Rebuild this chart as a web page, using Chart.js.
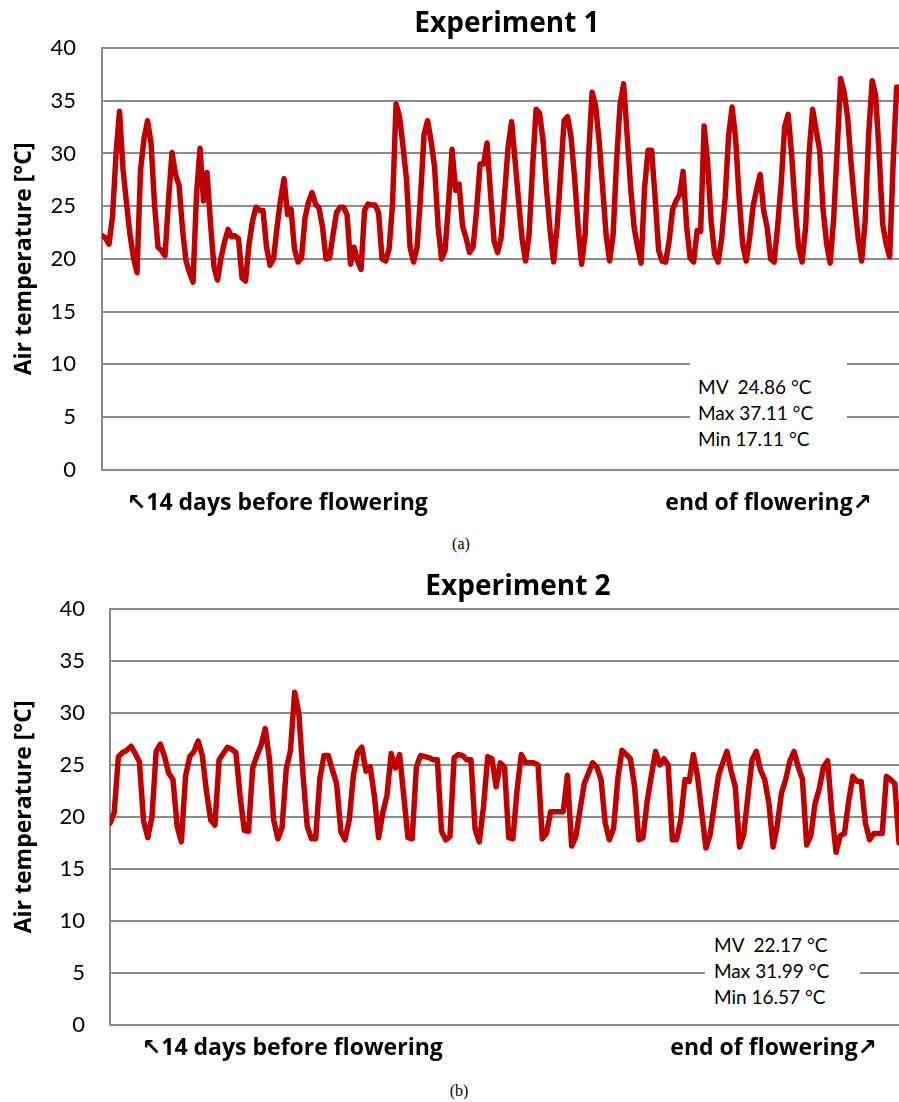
<!DOCTYPE html>
<html>
<head>
<meta charset="utf-8">
<script src="https://cdn.jsdelivr.net/npm/chart.js@4.4.1/dist/chart.umd.min.js"></script>
<style>
  body { margin: 0; background: #fff; }
  #page { position: relative; width: 899px; height: 1102px; overflow: hidden; font-family: Lato, 'DejaVu Sans', sans-serif; color: #000; }
  canvas { position: absolute; left: 0; }
  .title { position: absolute; font-family: 'Open Sans', sans-serif; font-weight: bold; font-size: 28px; line-height: 28px; white-space: nowrap; transform: translateX(-50%); }
  .xlab { position: absolute; font-family: 'Open Sans', 'DejaVu Sans', sans-serif; font-weight: bold; font-size: 23px; line-height: 23px; white-space: nowrap; }
  .stats { position: absolute; background: #fff; font-size: 19px; line-height: 25.8px; white-space: pre; box-sizing: border-box; }
  .cap { position: absolute; font-family: 'Liberation Serif', serif; font-size: 16px; line-height: 16px; transform: translateX(-50%); }
</style>
</head>
<body>
<div id="page">
  <canvas id="chartA" width="899" height="509" style="top:0"></canvas>
  <div class="title" style="left:507px; top:7px">Experiment 1</div>
  <div class="stats" id="statsA" style="left:690px; top:362px; width:157px; height:94px; padding:12px 0 0 8px"></div>
  <div class="xlab" style="left:127px; top:490px">↖14 days before flowering</div>
  <div class="xlab" style="right:27px; top:490px">end of flowering↗</div>
  <div class="cap" style="left:461px; top:536px">(a)</div>

  <canvas id="chartB" width="899" height="503" style="top:560px"></canvas>
  <div class="title" style="left:518px; top:570px">Experiment 2</div>
  <div class="stats" id="statsB" style="left:705px; top:930px; width:155px; height:84px; padding:2px 0 0 9px"></div>
  <div class="xlab" style="left:142px; top:1035px">↖14 days before flowering</div>
  <div class="xlab" style="right:22px; top:1035px">end of flowering↗</div>
  <div class="cap" style="left:459px; top:1083px">(b)</div>
</div>

<script>
// logger readings, one every 3 hours
const HOURS_PER_READING = 3;

const tempExp1 = [
  22.2, 22.0, 21.4, 24.0, 29.9, 34.0, 28.5, 25.3,
  22.3, 20.1, 18.7, 28.4, 31.4, 33.1, 31.0, 25.2,
  21.1, 20.8, 20.3, 25.5, 30.1, 28.0, 27.0, 22.8,
  19.8, 18.7, 17.8, 26.1, 30.5, 25.5, 28.2, 23.3,
  19.2, 18.0, 20.1, 21.6, 22.8, 22.1, 22.2, 21.9,
  18.2, 17.9, 21.4, 23.6, 24.9, 24.6, 24.6, 21.1,
  19.4, 20.0, 23.0, 25.6, 27.6, 24.2, 24.7, 20.9,
  19.7, 20.1, 23.9, 25.4, 26.3, 25.2, 24.8, 23.0,
  20.0, 20.1, 22.3, 24.4, 24.9, 24.9, 24.2, 19.5,
  21.1, 19.8, 19.0, 24.6, 25.2, 25.1, 25.1, 24.4,
  20.0, 19.8, 20.9, 25.2, 34.7, 33.5, 30.6, 27.5,
  21.1, 19.7, 21.1, 26.0, 31.8, 33.1, 31.2, 28.7,
  23.1, 20.0, 20.8, 25.3, 30.4, 26.5, 27.1, 23.1,
  22.0, 20.6, 21.1, 24.6, 29.0, 29.0, 31.0, 26.1,
  21.7, 20.6, 22.0, 26.1, 30.6, 33.0, 29.3, 25.5,
  21.9, 19.8, 22.3, 28.7, 34.2, 33.8, 31.2, 26.5,
  22.7, 19.7, 23.0, 28.0, 33.1, 33.5, 31.5, 27.7,
  23.0, 19.5, 22.3, 29.8, 35.8, 34.5, 31.2, 26.8,
  22.3, 19.8, 22.3, 29.3, 34.7, 36.6, 31.8, 26.8,
  23.0, 21.1, 19.6, 26.8, 30.3, 30.3, 25.8, 20.8,
  19.8, 19.7, 21.7, 24.7, 25.5, 26.1, 28.3, 23.1,
  20.1, 19.7, 22.7, 22.6, 32.6, 29.1, 23.6, 20.4,
  19.7, 21.9, 25.8, 31.7, 34.4, 31.4, 25.8, 21.4,
  19.8, 22.0, 25.0, 26.6, 28.0, 24.6, 23.0, 20.0,
  19.7, 23.1, 27.1, 32.5, 33.7, 29.9, 24.9, 21.1,
  19.7, 23.0, 30.1, 34.2, 32.2, 30.3, 24.6, 21.4,
  19.6, 23.8, 30.3, 37.1, 35.8, 33.4, 29.0, 25.2,
  22.0, 19.8, 23.6, 31.8, 36.9, 35.5, 29.9, 23.3,
  21.4, 20.2, 29.1, 36.3
];

const tempExp2 = [
  19.4, 20.4, 25.8, 26.2, 26.4, 26.8, 26.1, 25.3,
  19.6, 18.0, 20.0, 26.3, 27.0, 25.8, 24.2, 23.6,
  19.1, 17.6, 23.9, 25.8, 26.3, 27.3, 25.9, 22.4,
  19.7, 19.2, 25.5, 26.1, 26.7, 26.5, 26.2, 22.0,
  18.7, 18.6, 24.7, 25.9, 26.9, 28.5, 25.5, 19.7,
  17.9, 19.0, 24.6, 26.4, 32.0, 30.0, 24.0, 19.1,
  17.9, 17.9, 23.7, 25.9, 25.9, 24.5, 23.2, 18.6,
  17.8, 19.7, 24.0, 26.2, 26.7, 24.4, 24.8, 22.0,
  18.0, 20.4, 22.1, 26.1, 24.7, 26.0, 22.0, 18.0,
  17.9, 24.8, 25.9, 25.8, 25.7, 25.5, 25.5, 18.6,
  17.8, 18.1, 25.7, 26.0, 25.9, 25.5, 25.5, 18.8,
  17.6, 21.0, 25.8, 25.6, 22.9, 25.2, 24.8, 18.0,
  17.9, 22.6, 26.0, 25.2, 25.2, 25.2, 25.0, 17.9,
  18.4, 20.5, 20.5, 20.5, 20.5, 24.0, 17.2, 18.1,
  20.7, 23.2, 24.2, 25.2, 24.8, 23.6, 19.4, 17.8,
  18.9, 23.7, 26.4, 26.0, 25.6, 22.9, 17.8, 18.0,
  21.5, 24.0, 26.3, 25.0, 25.6, 25.0, 17.8, 17.8,
  19.7, 23.6, 23.4, 26.0, 23.9, 20.4, 17.0, 18.3,
  21.2, 24.0, 25.2, 26.3, 24.4, 22.9, 17.1, 18.3,
  22.0, 25.5, 26.3, 24.5, 23.6, 21.3, 17.1, 19.2,
  22.3, 23.6, 25.4, 26.3, 24.8, 23.6, 17.3, 18.2,
  21.3, 22.7, 24.8, 25.4, 20.4, 16.6, 18.2, 18.4,
  21.5, 23.9, 23.4, 23.4, 19.4, 17.8, 18.4, 18.4,
  18.4, 23.9, 23.6, 23.2, 17.5
];

// length of each record in hours (x axis end)
const spanExp1 = 683;
const spanExp2 = 564;

const statsExp1 = ['MV  24.86 °C', 'Max 37.11 °C', 'Min 17.11 °C'];
const statsExp2 = ['MV  22.17 °C', 'Max 31.99 °C', 'Min 16.57 °C'];

const Y_MIN = 0;
const Y_MAX = 40;
const Y_STEP = 5;

const LINE_RED = '#C00000';
const GRID_GREY = '#8c8c8c';

Chart.defaults.font.family = 'Lato';

function makeChart(canvasId, temps, span, axisWidth, tickPad, padTop) {
  const points = temps.map((t, i) => ({ x: i * HOURS_PER_READING, y: t }));
  return new Chart(document.getElementById(canvasId), {
    type: 'line',
    data: {
      datasets: [{
        data: points,
        borderColor: LINE_RED,
        borderWidth: 5.5,
        borderJoinStyle: 'round',
        borderCapStyle: 'round',
        pointRadius: 0,
        tension: 0,
        fill: false
      }]
    },
    options: {
      responsive: false,
      animation: false,
      devicePixelRatio: 1,
      // bottom space comes from the y tick padding (half label + tickPad)
      layout: { padding: { top: padTop, bottom: 0, left: 0, right: 0 } },
      plugins: { legend: { display: false }, tooltip: { enabled: false }, title: { display: false } },
      scales: {
        x: {
          type: 'linear',
          display: false,
          min: 0,
          max: span
        },
        y: {
          min: Y_MIN,
          max: Y_MAX,
          ticks: { stepSize: Y_STEP, padding: tickPad, color: '#000', font: { size: 22 } },
          grid: { color: GRID_GREY, lineWidth: 2, drawTicks: false },
          border: { display: true, color: GRID_GREY, width: 2 },
          title: {
            display: true,
            text: 'Air temperature [°C]',
            color: '#000',
            font: { family: 'Open Sans', size: 23, weight: 'bold' },
            padding: { top: 11, bottom: 0 }
          },
          afterFit: scale => { scale.width = axisWidth; }
        }
      }
    }
  });
}

function fillStats(id, lines) {
  document.getElementById(id).textContent = lines.join('\n');
}

makeChart('chartA', tempExp1, spanExp1, 102, 26, 48);
makeChart('chartB', tempExp2, spanExp2, 110, 25, 49);
fillStats('statsA', statsExp1);
fillStats('statsB', statsExp2);
</script>
</body>
</html>
